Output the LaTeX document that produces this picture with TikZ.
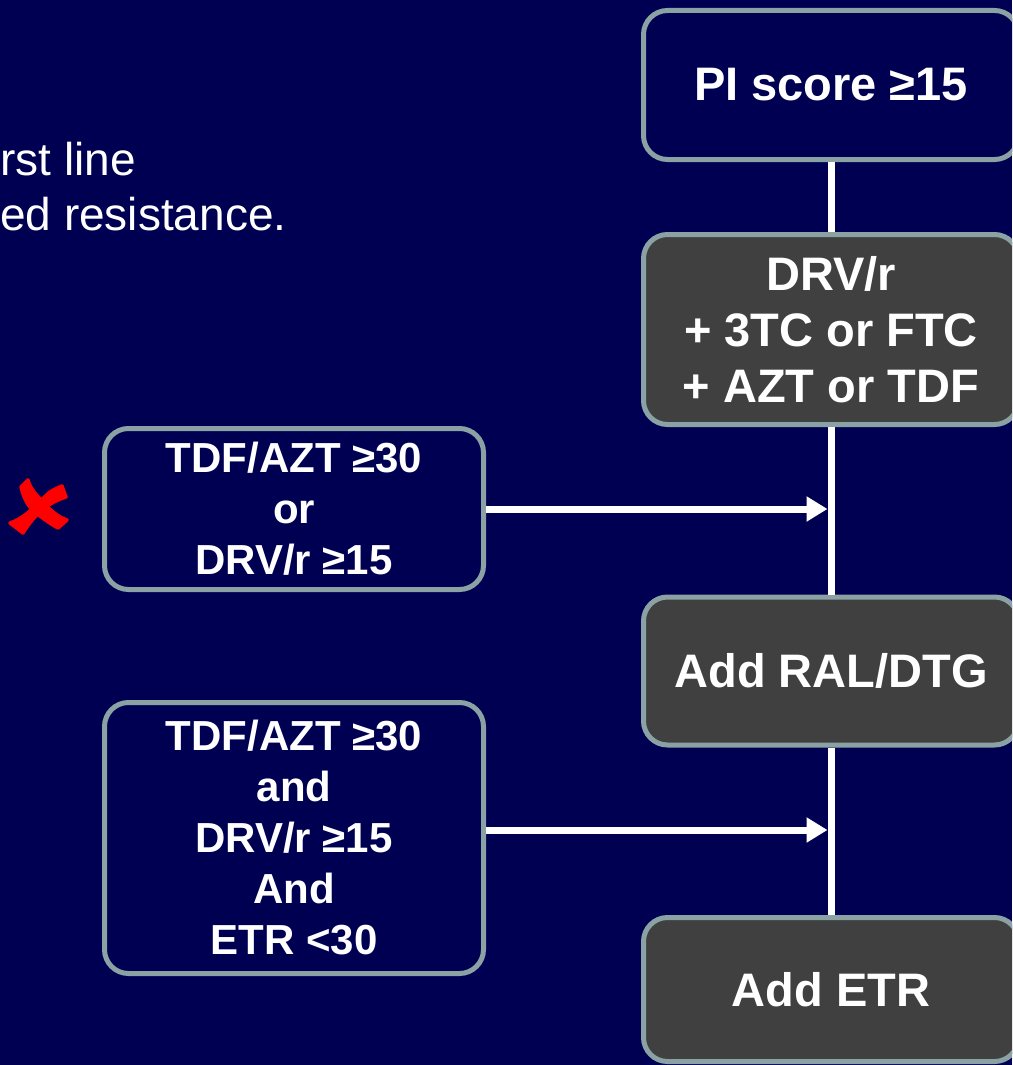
\documentclass[tikz,border=0pt]{standalone}
\usepackage{fontspec}
\setmainfont{Liberation Sans}
\usetikzlibrary{arrows.meta,positioning}
\definecolor{slidebg}{RGB}{0,0,82}
\definecolor{boxedge}{RGB}{138,162,164}
\definecolor{boxgray}{RGB}{64,64,64}

\begin{document}
\begin{tikzpicture}[x=1pt,y=-1pt,
	box/.style={draw=boxedge, line width=5pt, rounded corners=24pt, text=white, align=center,
		font=\fontsize{47}{56}\selectfont\bfseries, minimum width=375pt, inner sep=0pt},
	darkbox/.style={box, fill=boxgray},
	navybox/.style={box, fill=slidebg},
	sidebox/.style={navybox, minimum width=379pt, font=\fontsize{42}{51}\selectfont\bfseries},
	flow/.style={draw=white, line width=7pt},
	slidetext/.style={anchor=base west, inner sep=0pt, text=white, font=\fontsize{46}{55}\selectfont},
	]
	% Background
	\fill [slidebg] (0,0) rectangle (1012,1065);
	\clip (0,0) rectangle (1012,1065);
	
	% Place nodes
	\node [slidetext] (line1) at (0,175) {rst line};
	\node [slidetext] (line2) at (0,230) {ed resistance.};
	\node [navybox, minimum height=149pt] (pi) at (831,85) {PI score ≥15};
	\node [darkbox, minimum height=190pt] (drv) at (831,329.5) {DRV/r\\+ 3TC or FTC\\+ AZT or TDF};
	\node [darkbox, minimum height=148pt] (ral) at (831,671) {Add RAL/DTG};
	\node [darkbox, minimum height=144pt] (etr) at (831,989.5) {Add ETR};
	\node [sidebox, minimum height=161pt] (tdfor) at (294,509) {TDF/AZT ≥30\\or\\DRV/r ≥15};
	\node [sidebox, minimum height=271pt] (tdfand) at (294,838) {TDF/AZT ≥30\\and\\DRV/r ≥15\\And\\ETR <30};
	
	% Draw edges
	\draw [flow] (pi.south) -- (drv.north);
	\draw [flow] (drv.south) -- (ral.north);
	\draw [flow] (ral.south) -- (etr.north);
	\draw [flow, -{Triangle[length=21pt,width=24pt]}, shorten >=3.5pt] (tdfor.east) -- (tdfor.east -| drv.south);
	\draw [flow, -{Triangle[length=21pt,width=24pt]}, shorten >=3.5pt] ([yshift=8pt]tdfand.east) -- ([yshift=8pt]tdfand.east -| ral.south);
	
	% Red cross
	\filldraw [red, line width=3.5pt, line join=round] (21,487) .. controls (24,500) and (30,510) .. (40,516)
		.. controls (48,522) and (54,526) .. (58,528) -- (67,520)
		.. controls (58,517) and (50,510) .. (44,503)
		.. controls (36,495) and (30,488) .. (28,480) -- cycle;
	\filldraw [red, line width=3.5pt, line join=round] (62,486) -- (66,497) .. controls (50,502) and (36,512) .. (23,533)
		-- (10,523) .. controls (28,517) and (40,500) .. (50,492)
		.. controls (55,489) .. (62,486) -- cycle;
\end{tikzpicture}
\end{document}
